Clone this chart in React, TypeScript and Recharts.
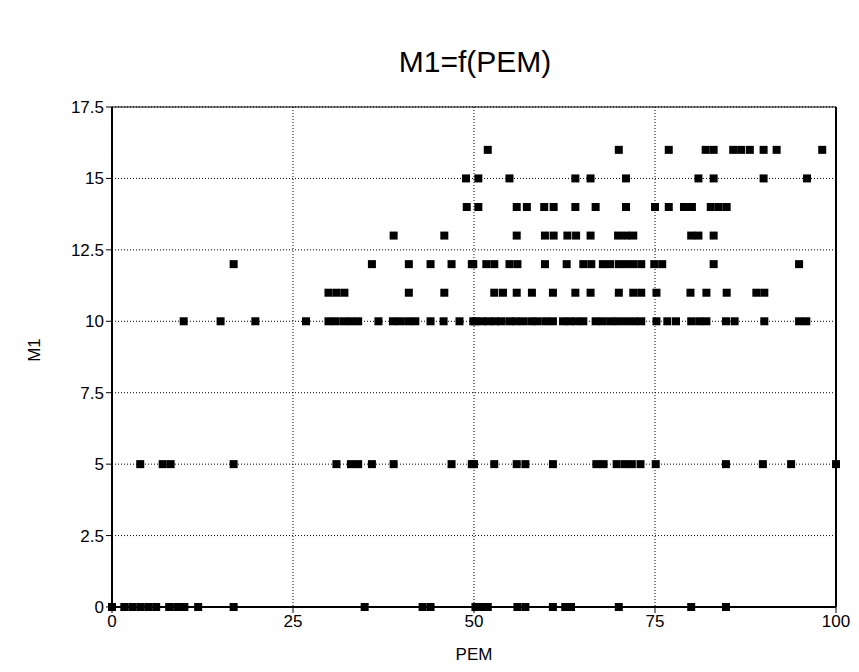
import React from "react";
import {
  ScatterChart,
  Scatter,
  XAxis,
  YAxis,
  CartesianGrid,
  ReferenceLine,
} from "recharts";

// PEM values, one list per M1 level
const pemAt0 = [0, 1.7, 2.8, 3.9, 5.0, 6.1, 7.9, 9.0, 10.0, 11.9, 16.8, 34.9, 42.9, 44.0, 50.2, 51.0, 51.9, 56.0, 57.1, 60.9, 62.6, 63.4, 70.0, 80.0, 84.8];
const pemAt5 = [3.9, 7.0, 8.1, 16.8, 31.0, 33.0, 34.0, 35.9, 38.9, 46.9, 49.7, 50.0, 52.8, 55.9, 57.1, 60.9, 66.9, 67.9, 69.7, 70.8, 71.8, 73.0, 75.1, 84.8, 89.9, 93.8, 100];
const pemAt10 = [
  9.9, 15.0, 19.8, 26.8, 29.9, 30.9, 32.0, 33.0, 34.0, 36.8, 38.8, 39.8, 40.9, 41.9, 44.0, 45.8, 48.0, 49.9,
  50.2, 51.1, 52.0, 52.9, 53.8, 54.9, 55.8, 56.8, 57.9, 58.8, 59.9, 60.9, 62.3, 63.2, 64.1, 65.1,
  66.8, 67.8, 68.9, 69.9, 71.0, 72.1, 73.1, 75.2, 76.7, 77.9, 80.0, 81.1, 82.1, 84.8, 86.0, 90.1, 94.9, 95.9,
];
const pemAt11 = [29.9, 31.0, 32.1, 41.0, 45.9, 52.8, 54.0, 55.9, 58.0, 60.9, 64.0, 66.1, 70.0, 72.0, 73.1, 75.2, 79.9, 82.1, 84.9, 89.0, 90.1];
const pemAt12 = [16.8, 35.9, 41.0, 44.0, 46.9, 49.7, 49.9, 51.7, 52.8, 54.9, 56.0, 59.8, 62.8, 65.1, 66.2, 67.8, 68.8, 70.0, 71.0, 72.0, 73.1, 74.9, 76.0, 83.1, 94.9];
const pemAt13 = [38.9, 45.9, 55.9, 59.8, 61.0, 62.9, 64.1, 66.1, 69.9, 71.0, 72.0, 80.0, 81.0, 83.1];
const pemAt14 = [49.0, 50.6, 55.9, 57.3, 59.7, 61.0, 64.0, 66.8, 71.0, 75.0, 76.9, 79.0, 80.1, 82.7, 83.8, 84.9];
const pemAt15 = [48.9, 50.6, 54.9, 64.0, 66.1, 71.0, 81.0, 83.1, 90.0, 96.0];
const pemAt16 = [51.9, 70.0, 76.9, 82.0, 83.1, 85.8, 86.9, 88.1, 90.0, 91.8, 98.1];

const xTicks = [0, 25, 50, 75, 100];
const yTicks = [0, 2.5, 5, 7.5, 10, 12.5, 15, 17.5];

const levels: [number, number[]][] = [
  [0, pemAt0],
  [5, pemAt5],
  [10, pemAt10],
  [11, pemAt11],
  [12, pemAt12],
  [13, pemAt13],
  [14, pemAt14],
  [15, pemAt15],
  [16, pemAt16],
];

const points = levels.flatMap(([m1, xs]) => xs.map((pem) => ({ pem, m1 })));

const Square = (props: any) => {
  const { cx, cy } = props;
  return <rect x={cx - 4} y={cy - 4} width={8} height={8} fill="#000" />;
};

const font = "Arial, 'Liberation Sans', sans-serif";
const tickStyle = { fill: "#000", fontSize: 17, fontFamily: font };

export default function App() {
  return (
    <div style={{ position: "absolute", left: 0, top: 0, width: 859, height: 672, background: "#fff" }}>
      <div
        style={{
          position: "absolute",
          left: 112,
          width: 726,
          top: 45,
          textAlign: "center",
          fontFamily: font,
          fontSize: 30,
          color: "#000",
        }}
      >
        M1=f(PEM)
      </div>
      <ScatterChart width={859} height={672} margin={{ top: 107, right: 23, bottom: 35, left: 52 }}>
        <CartesianGrid stroke="#000" strokeDasharray="1 2" />
        <XAxis
          type="number"
          dataKey="pem"
          domain={[0, 100]}
          ticks={xTicks}
          height={30}
          tick={tickStyle}
          tickSize={6}
          axisLine={{ stroke: "#000", strokeWidth: 2 }}
          tickLine={{ stroke: "#000" }}
        />
        <YAxis
          type="number"
          dataKey="m1"
          domain={[0, 17.5]}
          ticks={yTicks}
          width={60}
          tick={tickStyle}
          tickSize={6}
          axisLine={{ stroke: "#000", strokeWidth: 2 }}
          tickLine={{ stroke: "#000" }}
        />
        <ReferenceLine x={100} stroke="#000" strokeWidth={2} />
        <ReferenceLine y={17.5} stroke="#000" />
        <Scatter data={points} shape={<Square />} isAnimationActive={false} />
      </ScatterChart>
      <div
        style={{
          position: "absolute",
          left: 112,
          width: 724,
          top: 645,
          textAlign: "center",
          fontFamily: font,
          fontSize: 17,
          color: "#000",
        }}
      >
        PEM
      </div>
      <div
        style={{
          position: "absolute",
          left: 35,
          top: 350,
          transform: "translate(-50%, -50%) rotate(-90deg)",
          fontFamily: font,
          fontSize: 17,
          color: "#000",
          whiteSpace: "nowrap",
        }}
      >
        M1
      </div>
    </div>
  );
}
